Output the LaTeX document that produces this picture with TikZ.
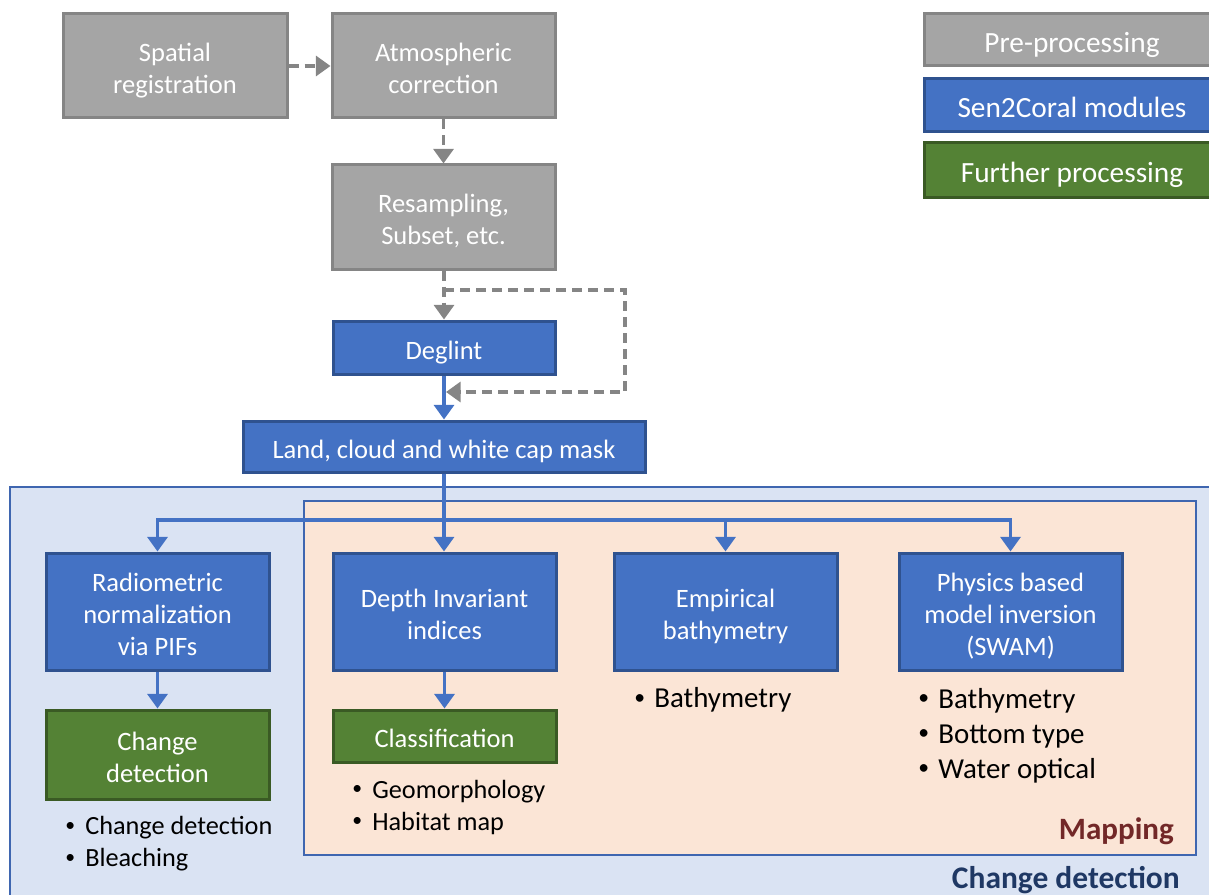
\documentclass[tikz,border=0pt]{standalone}
\usepackage{fontspec}
\setmainfont{Carlito}
\usetikzlibrary{fit,arrows.meta}
\definecolor{gfill}{HTML}{A5A5A5}
\definecolor{gline}{HTML}{858585}
\definecolor{bfill}{HTML}{4472C4}
\definecolor{bline}{HTML}{2F528F}
\definecolor{grfill}{HTML}{548235}
\definecolor{grline}{HTML}{3A5A24}
\definecolor{regblue}{HTML}{DAE3F3}
\definecolor{regline}{HTML}{3F66B0}
\definecolor{peach}{HTML}{FBE5D6}
\definecolor{mapred}{HTML}{722828}
\definecolor{cdblue}{HTML}{1F3864}
\tikzset{
  boxbase/.style={inner sep=0pt, line width=2.25pt, align=center, text=white,
    minimum width=167.25pt, font=\fontsize{19.9}{24}\selectfont},
  gbox/.style={boxbase, draw=gline, fill=gfill},
  bbox/.style={boxbase, draw=bline, fill=bfill},
  grbox/.style={boxbase, draw=grline, fill=grfill},
  legbox/.style={inner sep=0pt, line width=2.25pt, text=white,
    minimum width=222pt, font=\fontsize{22}{26}\selectfont},
  region/.style={inner sep=0pt, line width=1.6pt, draw=regline},
  garrow/.style={draw=gline, line width=2.6pt, dash pattern=on 7.5pt off 4.5pt,
    -{Triangle[length=11pt,width=15pt]}},
  barrow/.style={draw=bfill, line width=2.6pt,
    -{Triangle[length=11pt,width=15pt]}},
  bigbul/.style={inner sep=0pt, anchor=west, align=left, text=black,
    font=\fontsize{21.7}{26.25}\selectfont},
  smallbul/.style={inner sep=0pt, anchor=west, align=left, text=black,
    font=\fontsize{19.7}{24}\selectfont},
}
\newcommand{\bul}{\makebox[15pt][l]{\raisebox{0.12em}{\scalebox{0.75}{•}}}}
\newcommand{\bt}[1]{\raisebox{-4pt}[\height][\depth]{\begin{tabular}{@{}c@{}}#1\end{tabular}}}
\begin{document}
\begin{tikzpicture}[x=0.75pt,y=-0.75pt]
\useasboundingbox (0,0) rectangle (1209,895);
\clip (0,0) rectangle (1209,895);
% regions
\node[region, fill=regblue, fit={(10,487) (1225,905)}] (outer) {};
\node[region, fill=peach, fit={(304,501) (1196,855)}] (mapreg) {};
% preprocessing
\node[gbox, minimum width=168pt, minimum height=78pt] (spat) at (175,66) {\bt{Spatial\\registration}};
\node[gbox, minimum height=78pt] (atm) at (443.5,66) {\bt{Atmospheric\\correction}};
\node[gbox, minimum height=78pt] (res) at (443.5,217) {\bt{Resampling,\\Subset, etc.}};
\node[bbox, minimum width=166.5pt, minimum height=39.75pt] (deg) at (444,347.5) {\bt{Deglint}};
\node[bbox, minimum width=301.5pt, minimum height=38.25pt] (land) at (444,446.5) {\bt{Land, cloud and white cap mask}};
% modules
\node[bbox, minimum height=87.75pt] (rad) at (157.5,611.5) {\bt{Radiometric\\normalization\\via PIFs}};
\node[bbox, minimum height=87.75pt] (dii) at (444.5,611.5) {\bt{Depth Invariant\\indices}};
\node[bbox, minimum height=87.75pt] (emp) at (725.5,611.5) {\bt{Empirical\\bathymetry}};
\node[bbox, minimum height=87.75pt] (phys) at (1010.5,611.5) {\bt{Physics based\\model inversion\\(SWAM)}};
\node[grbox, minimum height=66.75pt] (chg) at (157.5,754.5) {\bt{Change\\detection}};
\node[grbox, minimum height=39pt] (cls) at (444.5,736) {\bt{Classification}};
% legend
\node[legbox, draw=gline, fill=gfill, minimum height=39pt] (l1) at (1072,40) {\bt{Pre-processing}};
\node[legbox, draw=bline, fill=bfill, minimum height=39.75pt] (l2) at (1072,105.5) {\bt{Sen2Coral modules}};
\node[legbox, draw=grline, fill=grfill, minimum height=40.5pt] (l3) at (1072,170) {\bt{Further processing}};
% bullet lists
\node[bigbul] (bemp) at (634,700) {\bul Bathymetry};
\node[bigbul] (bphys) at (918,735.5) {\bul Bathymetry\\\bul Bottom type\\\bul Water optical};
\node[smallbul] (bcls) at (352,807) {\bul Geomorphology\\\bul Habitat map};
\node[smallbul] (bchg) at (65,844) {\bul Change detection\\\bul Bleaching};
% region labels
\node[anchor=east, inner sep=0pt, text=mapred, font=\fontsize{23.3}{28}\selectfont\bfseries] (maplab) at (1174,831) {Mapping};
\node[anchor=east, inner sep=0pt, text=cdblue, font=\fontsize{23.6}{28}\selectfont\bfseries] (cdlab) at (1180,880) {Change detection};
% dashed connectors
\draw[garrow] (spat.east) -- (atm.west);
\draw[garrow] (atm.south) -- (res.north -| atm.south);
\coordinate (lpstart) at (444,290);
\coordinate (lp1) at (625,290);
\coordinate (lp2) at (625,392);
\coordinate (lpend) at (446,392);
\draw[garrow] (res.south -| lpstart) -- (deg.north -| lpstart);
\draw[barrow] (deg.south -| lpstart) -- (land.north -| lpstart);
\draw[garrow] (lpstart) -- (lp1) -- (lp2) -- (lpend);
% blue connectors
\coordinate (br) at (444,520);
\draw[barrow] (land.south -| br) -- (dii.north -| br);
\draw[barrow] (br) -| (rad.north);
\draw[barrow] (br) -| (emp.north);
\draw[barrow] (br) -| (phys.north);
\draw[barrow] (rad.south) -- (chg.north);
\draw[barrow] (dii.south) -- (cls.north);
\end{tikzpicture}
\end{document}
